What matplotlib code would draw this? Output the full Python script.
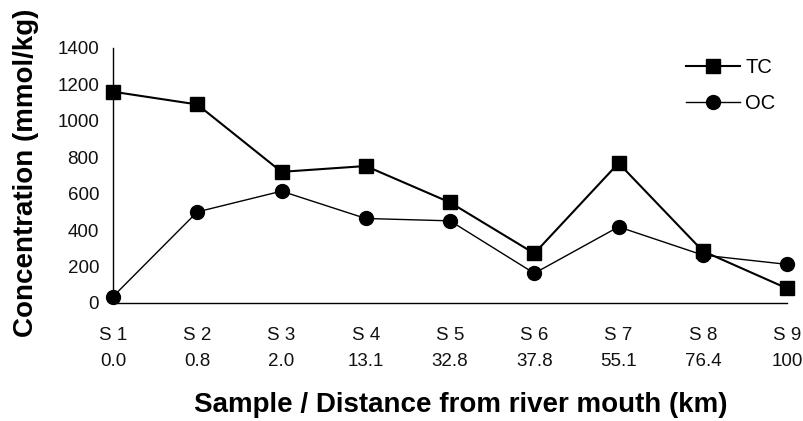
import matplotlib
matplotlib.use("Agg")
import matplotlib.pyplot as plt

samples = ["S 1", "S 2", "S 3", "S 4", "S 5", "S 6", "S 7", "S 8", "S 9"]
distances = ["0.0", "0.8", "2.0", "13.1", "32.8", "37.8", "55.1", "76.4", "100"]
tc = [1160, 1090, 720, 752, 552, 272, 768, 285, 80]
oc = [35, 500, 614, 464, 451, 163, 418, 263, 212]

plt.rcParams["font.family"] = ["Liberation Sans", "DejaVu Sans"]

fig = plt.figure(figsize=(8.04, 4.21), dpi=100)
ax = fig.add_axes([0.1405, 0.2803, 0.979 - 0.1405, 0.886 - 0.2803])

x = list(range(len(samples)))
ax.plot(x, tc, color="black", linewidth=1.5, marker="s", markersize=10,
        label="TC", clip_on=False)
ax.plot(x, oc, color="black", linewidth=1.0, marker="o", markersize=10,
        label="OC", clip_on=False)

ax.set_xlim(0, len(samples) - 1)
ax.set_ylim(0, 1400)
ax.set_yticks(range(0, 1401, 200))
ax.set_xticks(x)
ax.set_xticklabels([f"{s}\n{d}" for s, d in zip(samples, distances)],
                   linespacing=1.7)
ax.tick_params(axis="both", length=0, labelsize=13.5, colors="#111111")
ax.tick_params(axis="x", pad=17)
ax.tick_params(axis="y", pad=10)

for side in ["top", "right"]:
    ax.spines[side].set_visible(False)
ax.spines["left"].set_linewidth(1.0)
ax.spines["bottom"].set_linewidth(1.0)

ax.set_ylabel("Concentration (mmol/kg)", fontsize=20, fontweight="bold")
ax.yaxis.set_label_coords(-0.11, 0.51)
ax.set_xlabel("Sample / Distance from river mouth (km)", fontsize=20,
              fontweight="bold")
ax.xaxis.set_label_coords(0.516, -0.35)

fig.legend(loc="upper left", bbox_to_anchor=(686 / 804, 1 - 58 / 421),
           frameon=False, fontsize=14.5, handlelength=2.7,
           handletextpad=0.25, labelspacing=0.85, borderpad=0,
           borderaxespad=0)

fig.savefig("out.png", dpi=100)
